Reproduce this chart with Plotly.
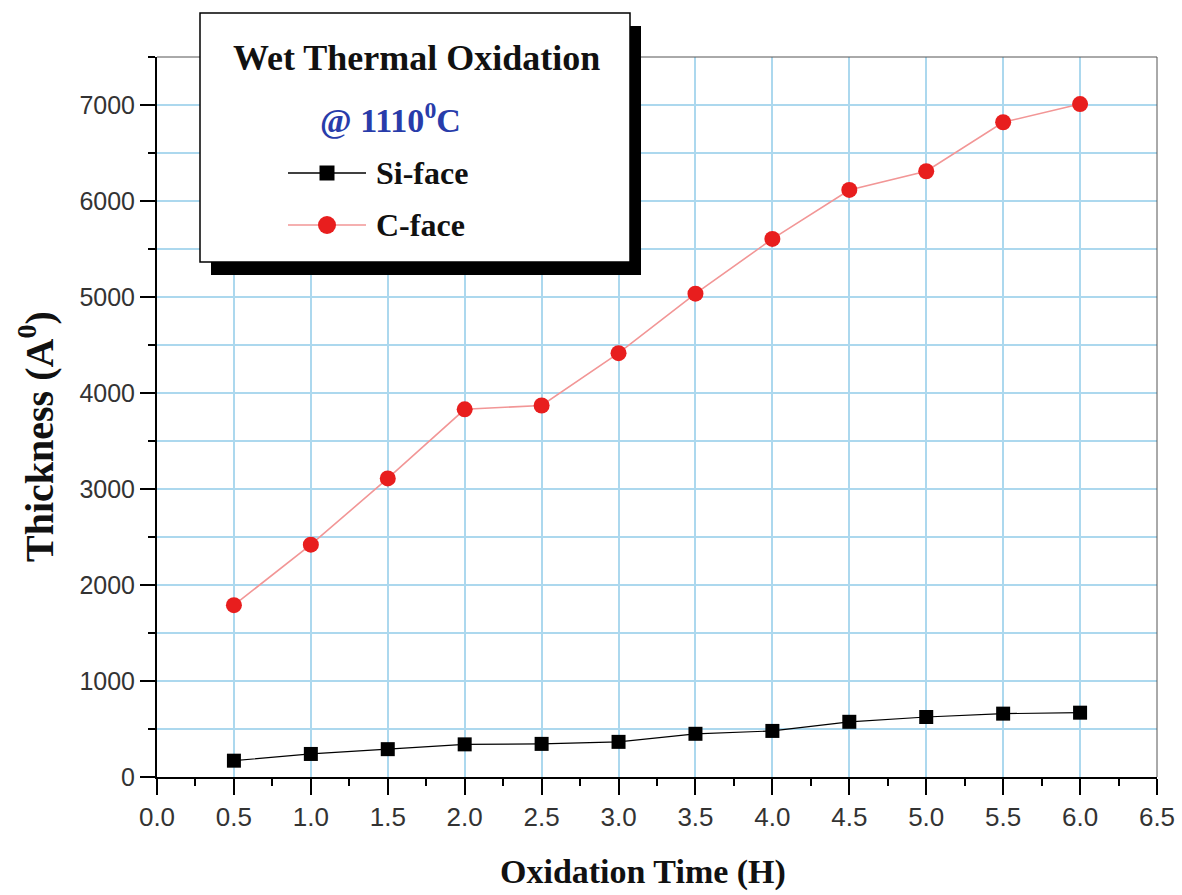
import plotly.graph_objects as go

# ---- data ----
time_h = [0.5, 1.0, 1.5, 2.0, 2.5, 3.0, 3.5, 4.0, 4.5, 5.0, 5.5, 6.0]
si_face = [170, 240, 290, 340, 345, 366, 450, 480, 575, 625, 660, 670]
c_face = [1790, 2420, 3110, 3830, 3870, 4415, 5035, 5605, 6115, 6310, 6820, 7010]

x_ticks = [0.0, 0.5, 1.0, 1.5, 2.0, 2.5, 3.0, 3.5, 4.0, 4.5, 5.0, 5.5, 6.0, 6.5]
x_ticklabels = [f"{v:.1f}" for v in x_ticks]
y_ticks = [0, 1000, 2000, 3000, 4000, 5000, 6000, 7000]

legend_title = "Wet Thermal Oxidation"
legend_sub = "@ 1110<sup>0</sup>C"
series_names = ["Si-face", "C-face"]
x_title = "Oxidation Time (H)"
y_title = "Thickness (A<sup>0</sup>)"

# ---- layout geometry (pixels) ----
W, H = 1182, 895
L, R, T, B = 157, 25, 57, 118
pw, ph = W - L - R, H - T - B


def px(x):
    return (x - L) / pw


def py(y):
    return (H - B - y) / ph


GRID = "rgb(172,216,238)"
SERIF = "Liberation Serif, Times New Roman, serif"
SANS = "Liberation Sans, Arial, sans-serif"

fig = go.Figure()
fig.add_trace(go.Scatter(
    x=time_h, y=si_face, name=series_names[0], mode="lines+markers",
    line=dict(color="black", width=1.2),
    marker=dict(symbol="square", size=14, color="black"),
))
fig.add_trace(go.Scatter(
    x=time_h, y=c_face, name=series_names[1], mode="lines+markers",
    line=dict(color="rgb(242,150,150)", width=1.6),
    marker=dict(symbol="circle", size=16, color="rgb(232,30,30)"),
))

fig.update_layout(
    width=W, height=H,
    margin=dict(l=L, r=R, t=T, b=B),
    paper_bgcolor="white", plot_bgcolor="white",
    showlegend=False,
    font=dict(family=SANS, color="#333"),
)
fig.update_xaxes(
    range=[0, 6.5], tickvals=x_ticks, ticktext=x_ticklabels, automargin=False,
    showline=True, linecolor="black", linewidth=2, mirror=False,
    ticks="outside", ticklen=16, tickwidth=2, tickcolor="black",
    tickfont=dict(size=26, color="#333", family=SANS),
    showgrid=True, gridcolor=GRID, gridwidth=1.5, zeroline=False,
    minor=dict(dtick=0.25, ticks="outside", ticklen=7, tickwidth=2,
               tickcolor="black", showgrid=False),
)
fig.update_yaxes(
    range=[0, 7500], tickvals=y_ticks, automargin=False,
    showline=True, linecolor="black", linewidth=2, mirror=False,
    ticks="outside", ticklen=15, tickwidth=2, tickcolor="black",
    tickfont=dict(size=25, color="#333", family=SANS),
    showgrid=True, gridcolor=GRID, gridwidth=1.5, zeroline=False,
    minor=dict(dtick=500, ticks="outside", ticklen=7, tickwidth=2,
               tickcolor="black", showgrid=True, gridcolor=GRID, gridwidth=1.5),
)

# axis titles
fig.add_annotation(xref="paper", yref="paper", x=px(643), y=py(872),
                   xanchor="center", yanchor="middle", showarrow=False,
                   text=f"<b>{x_title}</b>",
                   font=dict(family=SERIF, size=34, color="#111"))
fig.add_annotation(xref="paper", yref="paper", x=px(36), y=py(437),
                   xanchor="center", yanchor="middle", showarrow=False,
                   textangle=-90, text=f"<b>{y_title}</b>",
                   font=dict(family=SERIF, size=40, color="#111"))

# thin top / right frame
fig.add_shape(type="line", xref="paper", yref="paper", x0=0, x1=1, y0=1, y1=1,
              line=dict(color="#555", width=1))
fig.add_shape(type="line", xref="paper", yref="paper", x0=1, x1=1, y0=0, y1=1,
              line=dict(color="#555", width=1))

# ---- legend box drawn as shapes ----
bx0, by0, bx1, by1 = 200, 13, 630, 262
sh = 11
fig.add_shape(type="rect", xref="paper", yref="paper", layer="above",
              x0=px(bx0 + sh), x1=px(bx1 + sh), y0=py(by0 + sh + 2), y1=py(by1 + sh + 2),
              fillcolor="black", line=dict(width=0))
fig.add_shape(type="rect", xref="paper", yref="paper", layer="above",
              x0=px(bx0), x1=px(bx1), y0=py(by0), y1=py(by1),
              fillcolor="white", line=dict(color="black", width=1.5))

fig.add_annotation(xref="paper", yref="paper", x=px(416), y=py(58),
                   xanchor="center", yanchor="middle",
                   text=f"<b>{legend_title}</b>", showarrow=False,
                   font=dict(family=SERIF, size=36, color="#111"))
fig.add_annotation(xref="paper", yref="paper", x=px(390), y=py(118),
                   xanchor="center", yanchor="middle",
                   text=f"<b>{legend_sub}</b>", showarrow=False,
                   font=dict(family=SERIF, size=34, color="rgb(40,60,170)"))

rows = [
    (173, "black", "black", "square", 15),
    (225, "rgb(242,150,150)", "rgb(232,30,30)", "circle", 18),
]
for (yy, lc, mc, sym, ms), name in zip(rows, series_names):
    fig.add_shape(type="line", xref="paper", yref="paper", layer="above",
                  x0=px(288), x1=px(366), y0=py(yy), y1=py(yy),
                  line=dict(color=lc, width=1.5))
    fig.add_shape(type="rect" if sym == "square" else "circle",
                  xref="paper", yref="paper", layer="above",
                  xsizemode="pixel", ysizemode="pixel",
                  xanchor=px(327), yanchor=py(yy),
                  x0=-ms / 2, x1=ms / 2, y0=-ms / 2, y1=ms / 2,
                  fillcolor=mc, line=dict(width=0))
    fig.add_annotation(xref="paper", yref="paper", x=px(374), y=py(yy),
                       xanchor="left", yanchor="middle",
                       text=f"<b>{name}</b>", showarrow=False,
                       font=dict(family=SERIF, size=32, color="#111"))

fig.write_html("out.html")
